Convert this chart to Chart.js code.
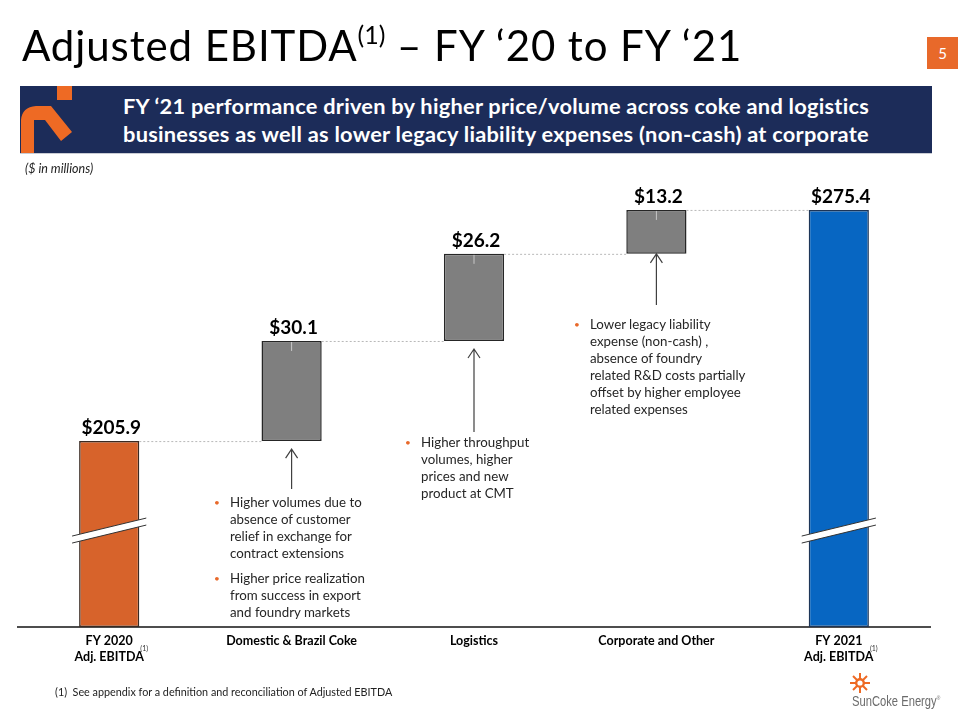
<!DOCTYPE html>
<html>
<head>
<meta charset="utf-8">
<script src="https://cdn.jsdelivr.net/npm/chart.js@4.4.1/dist/chart.umd.min.js"></script>
<style>
  html, body { margin: 0; padding: 0; background: #fff; }
  body { width: 960px; height: 720px; position: relative; overflow: hidden; font-family: Lato, "Open Sans", sans-serif; }
  #chart { position: absolute; left: 0; top: 0; }
  .abs { position: absolute; }
  #title { left: 22px; top: 20px; font-size: 42px; letter-spacing: 0.9px; color: #000; white-space: nowrap; }
  #title sup { font-size: 25px; vertical-align: 0; position: relative; top: -17px; letter-spacing: 0; }
  #page { left: 927px; top: 37px; width: 31px; height: 32px; background: #e8692a; color: #fff; font-size: 15px; text-align: center; line-height: 32px; }
  #banner { left: 20px; top: 86px; width: 912px; height: 67px; background: #1c2c59; border-bottom: 1px solid #c9ccd4; }
  #banner .txt { position: absolute; left: 40px; right: 0; top: 6px; text-align: center; color: #fff; font-weight: bold; font-size: 21.8px; letter-spacing: 0.25px; line-height: 28px; white-space: nowrap; }
  #units { left: 25px; top: 161px; font-size: 12.5px; font-style: italic; color: #222; }
  .note { font-size: 13.3px; line-height: 17px; color: #262626; white-space: nowrap; }
  .note .b { position: absolute; left: -16px; color: #e8692a; font-size: 10px; }
  .note p { margin: 0; position: relative; }
  #foot { left: 55px; top: 685px; font-size: 10.8px; color: #222; white-space: nowrap; }
  #logo { left: 852px; top: 672px; }
  #logo .name { position: absolute; left: 0; top: 21px; font-size: 14px; color: #6b6b6b; white-space: nowrap; transform: scaleX(0.8); transform-origin: 0 0; font-family: "Liberation Sans", sans-serif; }
</style>
</head>
<body>
<canvas id="chart" width="960" height="720"></canvas>

<div id="title" class="abs">Adjusted EBITDA<sup>(1)</sup> – FY ‘20 to FY ‘21</div>
<div id="page" class="abs">5</div>
<div id="banner" class="abs">
  <svg width="70" height="67" style="position:absolute;left:0;top:0">
    <rect x="37" y="0" width="15" height="14" fill="#ee6a24"/>
    <path d="M1 34 Q2 21 16 20 L31 20 L52 46 L41 55 L25 34 L14 34 L14 67 L1 67 Z" fill="#ee6a24"/>
  </svg>
  <div class="txt">FY ‘21 performance driven by higher price/volume across coke and logistics<br>businesses as well as lower legacy liability expenses (non-cash) at corporate</div>
</div>
<div id="units" class="abs">($ in millions)</div>

<div class="abs note" style="left:230px;top:494px">
  <p><span class="b">•</span>Higher volumes due to</p>
  <p>absence of customer</p>
  <p>relief in exchange for</p>
  <p>contract extensions</p>
  <p style="margin-top:8px"><span class="b">•</span>Higher price realization</p>
  <p>from success in export</p>
  <p>and foundry markets</p>
</div>
<div class="abs note" style="left:421px;top:434px">
  <p><span class="b">•</span>Higher throughput</p>
  <p>volumes, higher</p>
  <p>prices and new</p>
  <p>product at CMT</p>
</div>
<div class="abs note" style="left:590px;top:316px">
  <p><span class="b">•</span>Lower legacy liability</p>
  <p>expense (non-cash) ,</p>
  <p>absence of foundry</p>
  <p>related R&amp;D costs partially</p>
  <p>offset by higher employee</p>
  <p>related expenses</p>
</div>

<div id="foot" class="abs">(1)&nbsp; See appendix for a definition and reconciliation of Adjusted EBITDA</div>
<div id="logo" class="abs">
  <svg width="22" height="22" viewBox="-11 -11 22 22" style="position:absolute;left:-3px;top:0">
    <g stroke="#ee6a24" stroke-width="2">
      <line x1="0" y1="-10" x2="0" y2="10"/><line x1="-10" y1="0" x2="10" y2="0"/>
      <line x1="-7" y1="-7" x2="7" y2="7"/><line x1="-7" y1="7" x2="7" y2="-7"/>
    </g>
    <circle r="5" fill="#ee6a24"/><circle r="2.6" fill="#fff"/>
  </svg>
  <div class="name">SunCoke Energy<sup style="font-size:6px">®</sup></div>
</div>

<script>
// categories and values (in $ millions)
const categories = [['FY 2020', 'Adj. EBITDA'], 'Domestic & Brazil Coke', 'Logistics', 'Corporate and Other', ['FY 2021', 'Adj. EBITDA']];
const values = [205.9, 30.1, 26.2, 13.2, 275.4];
const valueLabels = ['$205.9', '$30.1', '$26.2', '$13.2', '$275.4'];
const isTotal = [true, false, false, false, true];
const barColors = ['#d7632b', '#7f7f7f', '#7f7f7f', '#7f7f7f', '#0766c2'];
const borderColors = ['#3a2a22', '#262626', '#262626', '#262626', '#1d3557'];
const footnoteCats = [0, 4];

// broken axis: bars start at 150
const axisMin = 150;
const axisMax = 285;
const breakValue = 179;

// floating ranges for the waterfall
let running = 0;
const ranges = values.map((v, i) => {
  if (isTotal[i]) { running = v; return [axisMin, v]; }
  const r = [running, running + v];
  running += v;
  return r;
});

// arrow tails (pixel y) for the step bars, pointing up at the bar bottoms
const arrowTails = {1: 489, 2: 432, 3: 305};

const overlay = {
  id: 'overlay',
  afterDatasetsDraw(chart) {
    const ctx = chart.ctx;
    const x = chart.scales.x, y = chart.scales.y;
    const bars = chart.getDatasetMeta(0).data;
    ctx.save();

    // dotted connectors
    ctx.strokeStyle = '#b8b8b8';
    ctx.lineWidth = 1;
    ctx.setLineDash([2, 2]);
    for (let i = 0; i < bars.length - 1; i++) {
      const yy = y.getPixelForValue(ranges[i][1]);
      ctx.beginPath();
      ctx.moveTo(bars[i].x + bars[i].width / 2, yy + 0.5);
      ctx.lineTo(bars[i + 1].x - bars[i + 1].width / 2, yy + 0.5);
      ctx.stroke();
    }
    ctx.setLineDash([]);

    // small light ticks inside step bars
    ctx.strokeStyle = '#c8c8c8';
    bars.forEach((b, i) => {
      if (isTotal[i]) return;
      const top = y.getPixelForValue(ranges[i][1]);
      ctx.beginPath();
      ctx.moveTo(b.x, top + 1);
      ctx.lineTo(b.x, top + 10);
      ctx.stroke();
    });

    // axis break marks on total bars
    bars.forEach((b, i) => {
      if (!isTotal[i]) return;
      const cy = y.getPixelForValue(breakValue);
      const l = b.x - b.width / 2 - 7, r = b.x + b.width / 2 + 7;
      const dy = 9, h = 3.5;
      ctx.fillStyle = '#fff';
      ctx.beginPath();
      ctx.moveTo(l, cy + dy - h); ctx.lineTo(r, cy - dy - h);
      ctx.lineTo(r, cy - dy + h); ctx.lineTo(l, cy + dy + h);
      ctx.closePath(); ctx.fill();
      ctx.strokeStyle = '#333';
      ctx.lineWidth = 1;
      ctx.beginPath();
      ctx.moveTo(l, cy + dy - h); ctx.lineTo(r, cy - dy - h);
      ctx.moveTo(l, cy + dy + h); ctx.lineTo(r, cy - dy + h);
      ctx.stroke();
    });

    // arrows
    ctx.strokeStyle = '#404040';
    ctx.lineWidth = 1.2;
    Object.keys(arrowTails).forEach(k => {
      const i = +k;
      const tipY = y.getPixelForValue(ranges[i][0]) + (i === 3 ? 0 : 8);
      const ax = bars[i].x;
      ctx.beginPath();
      ctx.moveTo(ax, arrowTails[k]); ctx.lineTo(ax, tipY);
      ctx.moveTo(ax - 6, tipY + 9); ctx.lineTo(ax, tipY); ctx.lineTo(ax + 6, tipY + 9);
      ctx.stroke();
    });

    // value labels
    ctx.fillStyle = '#000';
    ctx.font = 'bold 19px Lato, sans-serif';
    ctx.textAlign = 'center';
    ctx.textBaseline = 'alphabetic';
    bars.forEach((b, i) => {
      ctx.fillText(valueLabels[i], b.x + 2, y.getPixelForValue(ranges[i][1]) - 7);
    });

    // footnote marks on axis labels
    ctx.font = '7px Lato, sans-serif';
    ctx.fillStyle = '#333';
    footnoteCats.forEach(i => {
      ctx.fillText('(1)', x.getPixelForValue(i) + 35, x.bottom - 69);
    });
    ctx.restore();
  }
};

new Chart(document.getElementById('chart'), {
  type: 'bar',
  data: {
    labels: categories,
    datasets: [{
      data: ranges,
      backgroundColor: barColors,
      borderColor: borderColors,
      borderWidth: 1.5,
      borderSkipped: false,
      categoryPercentage: 1,
      barPercentage: 0.33
    }]
  },
  options: {
    responsive: false,
    animation: false,
    layout: { padding: { left: 18, right: 30, top: 178, bottom: 0 } },
    plugins: { legend: { display: false }, tooltip: { enabled: false } },
    scales: {
      x: {
        grid: { display: false, drawTicks: false },
        border: { display: true, color: '#4d4d4d', width: 2 },
        ticks: {
          color: '#000',
          padding: 6,
          maxRotation: 0,
          autoSkip: false,
          font: { family: 'Lato, sans-serif', weight: 'bold', size: 12.5, lineHeight: 1.3 }
        },
        afterFit(scale) { scale.height = 93; }
      },
      y: { display: false, min: axisMin, max: axisMax }
    }
  },
  plugins: [overlay]
});
</script>
</body>
</html>
